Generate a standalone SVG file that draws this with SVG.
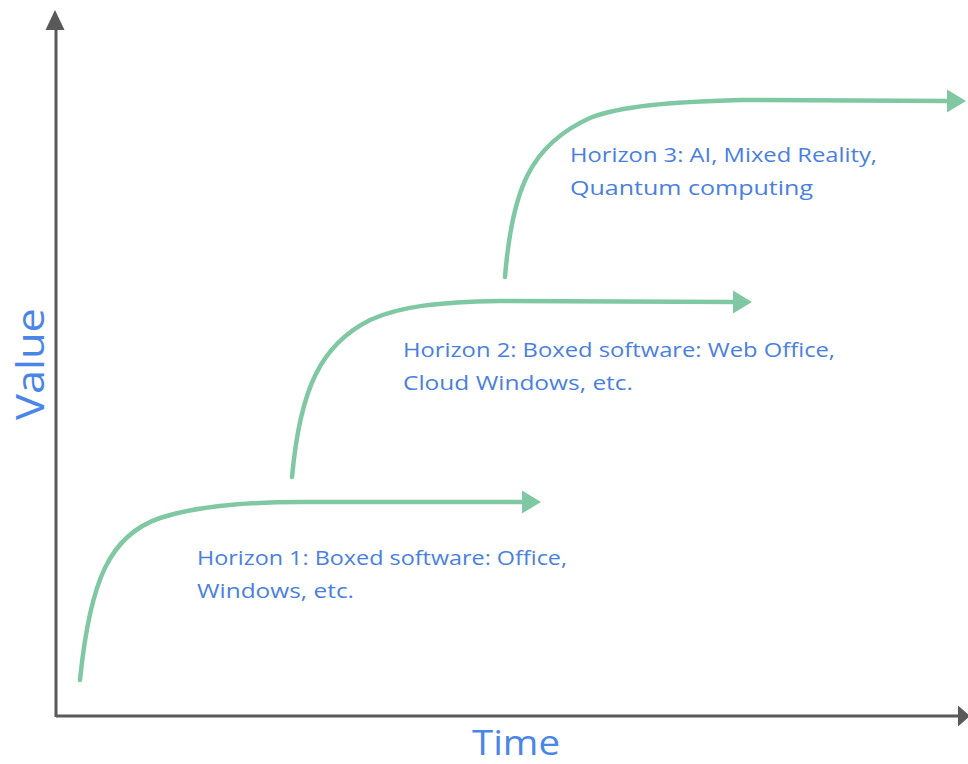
<svg xmlns="http://www.w3.org/2000/svg" width="968" height="764" viewBox="0 0 968 764">
<style>
.axis{stroke:#595959;stroke-width:3;fill:none}
.ah{fill:#595959}
.curve{stroke:#80c8a3;stroke-width:4.5;fill:none;stroke-linecap:round}
.cah{fill:#80c8a3}
.lbl{font-family:"Open Sans","Liberation Sans",sans-serif;font-size:20px;fill:#4a7fe0}
.ax{font-family:"Open Sans","Liberation Sans",sans-serif;fill:#4a86e8}
</style>
<rect width="968" height="764" fill="#ffffff"/>
<g id="axes">
<line class="axis" x1="56" y1="28" x2="56" y2="717"/>
<line class="axis" x1="56" y1="716" x2="960" y2="716"/>
<polygon class="ah" points="55,10 45.5,30 64.5,30"/>
<polygon class="ah" points="970,716 958,705.5 958,726.5"/>
</g>
<g id="connectors">
<path class="curve" d="M80,680 C90,580 110,535 160,518 C200,505 250,502 300,502 L524,502"/>
<polygon class="cah" points="541,502 522,490.5 522,513.5"/>
<path class="curve" d="M292,477 C300,390 320,345 370,320 C400,306 440,302 500,301 L734,302"/>
<polygon class="cah" points="752,302 733,290.5 733,313.5"/>
<path class="curve" d="M505,277 C512,190 530,145 590,118 C620,106 670,102 740,100 L948,101"/>
<polygon class="cah" points="966,101 947,89.5 947,112.5"/>
</g>
<g id="h1">
<text class="lbl" x="197" y="565" textLength="370" lengthAdjust="spacingAndGlyphs">Horizon 1: Boxed software: Office,</text>
<text class="lbl" x="197" y="598" textLength="157" lengthAdjust="spacingAndGlyphs">Windows, etc.</text>
</g>
<g id="h2">
<text class="lbl" x="403" y="357" textLength="432" lengthAdjust="spacingAndGlyphs">Horizon 2: Boxed software: Web Office,</text>
<text class="lbl" x="403" y="390" textLength="230" lengthAdjust="spacingAndGlyphs">Cloud Windows, etc.</text>
</g>
<g id="h3">
<text class="lbl" x="570" y="162" textLength="307" lengthAdjust="spacingAndGlyphs">Horizon 3: AI, Mixed Reality,</text>
<text class="lbl" x="570" y="195" textLength="243" lengthAdjust="spacingAndGlyphs">Quantum computing</text>
</g>
<g id="labels">
<text class="ax" font-size="38" transform="translate(44,420) rotate(-90)" textLength="112" lengthAdjust="spacingAndGlyphs">Value</text>
<text class="ax" font-size="34" x="472" y="755" textLength="88" lengthAdjust="spacingAndGlyphs">Time</text>
</g>
</svg>
